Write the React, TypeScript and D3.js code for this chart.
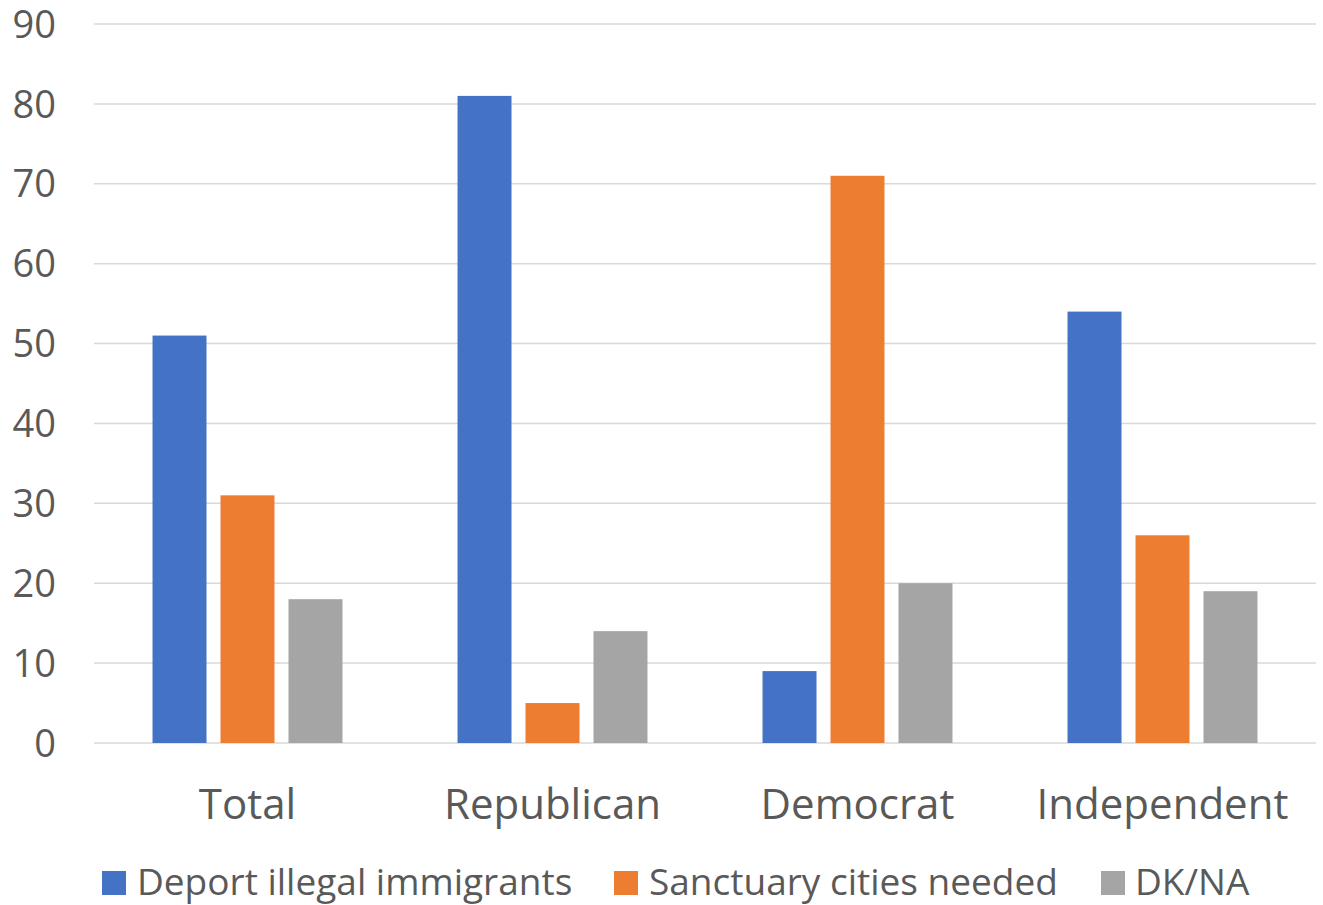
import React from "react";
import * as d3 from "d3";

const categories = ["Total", "Republican", "Democrat", "Independent"];
const seriesNames = ["Deport illegal immigrants", "Sanctuary cities needed", "DK/NA"];
const deportValues = [51, 81, 9, 54];
const sanctuaryValues = [31, 5, 71, 26];
const dknaValues = [18, 14, 20, 19];
const seriesColors = ["#4472C4", "#ED7D31", "#A5A5A5"];
const yTicks = [0, 10, 20, 30, 40, 50, 60, 70, 80, 90];

const W = 1323;
const H = 905;
const FONT = "'Open Sans', 'Noto Sans', sans-serif";
const TEXT = "#595959";

export default function App() {
  const seriesValues = [deportValues, sanctuaryValues, dknaValues];
  const x0 = d3.scaleBand<string>().domain(categories).range([95, 1315]).padding(0);
  const x1 = d3
    .scaleBand<string>()
    .domain(seriesNames)
    .range([0, x0.bandwidth()])
    .paddingInner(0.206)
    .paddingOuter(0.846);
  const y = d3.scaleLinear().domain([0, 90]).range([743, 24]);

  const legendItems = [
    { x: 102, textX: 137 },
    { x: 614, textX: 649 },
    { x: 1101, textX: 1135 },
  ];

  return (
    <svg
      width={W}
      height={H}
      style={{ position: "absolute", left: 0, top: 0, background: "#fff" }}
      fontFamily={FONT}
    >
      <rect x={0} y={0} width={W} height={H} fill="#fff" />
      {yTicks.map((t) => (
        <g key={t}>
          <line x1={94} x2={1316} y1={y(t)} y2={y(t)} stroke="#D9D9D9" strokeWidth={1.5} />
          <text
            x={56}
            y={y(t)}
            dy="0.36em"
            textAnchor="end"
            fontSize={38}
            fill={TEXT}
          >
            {t}
          </text>
        </g>
      ))}
      {categories.map((c, ci) => (
        <g key={c} transform={`translate(${x0(c)},0)`}>
          {seriesNames.map((s, si) => {
            const v = seriesValues[si][ci];
            return (
              <rect
                key={s}
                x={x1(s)}
                y={y(v)}
                width={x1.bandwidth()}
                height={y(0) - y(v)}
                fill={seriesColors[si]}
              />
            );
          })}
          <text
            x={x0.bandwidth() / 2}
            y={804}
            dy="0.36em"
            textAnchor="middle"
            fontSize={42}
            fill={TEXT}
          >
            {c}
          </text>
        </g>
      ))}
      {seriesNames.map((s, si) => (
        <g key={s}>
          <rect x={legendItems[si].x} y={871} width={24} height={24} fill={seriesColors[si]} />
          <text x={legendItems[si].textX} y={882} dy="0.36em" fontSize={37} fill={TEXT}>
            {s}
          </text>
        </g>
      ))}
    </svg>
  );
}
